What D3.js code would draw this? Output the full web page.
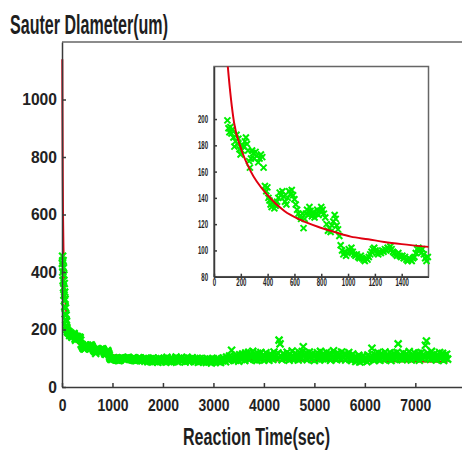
<!DOCTYPE html>
<html>
<head>
<meta charset="utf-8">
<script src="https://cdn.jsdelivr.net/npm/d3@7"></script>
<style>
  body { margin: 0; background: #fff; }
  svg text { font-family: "Liberation Sans", Arial, sans-serif; }
</style>
</head>
<body>
<svg width="462" height="458"></svg>
<script>
// measured points, first 100 s (steep drop)
var earlyT = [8, 12, 16, 20, 24, 28, 32, 36, 40, 44, 48, 52, 56, 60, 65, 70, 75, 80, 85, 90, 95];
var earlyD = [430, 455, 400, 440, 370, 415, 345, 390, 320, 360, 300, 330, 280, 305, 255, 275, 235, 250, 215, 228, 205];

// measured points 100 - 1600 s (shown in the inset too)
var insetT = [100, 108, 115, 122, 130, 138, 145, 152, 160, 168, 175, 182, 190, 198, 206, 214, 222, 230, 238, 246,
  254, 262, 268, 276, 284, 292, 300, 310, 320, 330, 340, 350, 360, 370, 380, 390, 398, 406, 414, 422,
  430, 440, 450, 460, 470, 480, 490, 500, 510, 520, 530, 540, 550, 560, 570, 580, 590, 600, 610, 620,
  630, 640, 650, 660, 668, 676, 685, 694, 703, 712, 720, 730, 740, 750, 760, 770, 780, 790, 800, 810,
  820, 830, 840, 850, 860, 870, 880, 890, 900, 908, 915, 925, 935, 945, 955, 965, 975, 985, 995, 1005,
  1015, 1025, 1035, 1045, 1055, 1065, 1075, 1085, 1095, 1105, 1115, 1125, 1135, 1145, 1155, 1165, 1175, 1185, 1195, 1205,
  1215, 1225, 1235, 1245, 1255, 1265, 1275, 1285, 1295, 1305, 1315, 1325, 1335, 1345, 1355, 1365, 1375, 1385, 1395, 1405,
  1415, 1425, 1435, 1445, 1455, 1465, 1475, 1485, 1495, 1505, 1515, 1525, 1535, 1545, 1555, 1565, 1575, 1585, 1595];
var insetD = [199, 193, 190, 194, 189, 192, 186, 179, 183, 188, 181, 185, 177, 173, 176, 180, 179, 183, 186, 181,
  176, 168, 163, 170, 176, 174, 170, 175, 172, 167, 170, 173, 171, 163, 149, 145, 148, 140, 138, 135,
  133, 136, 132, 134, 137, 140, 144, 142, 145, 141, 137, 135, 140, 145, 143, 146, 142, 139, 135, 131,
  128, 126, 124, 128, 117, 124, 128, 131, 127, 133, 130, 126, 129, 125, 128, 131, 127, 130, 133, 131,
  128, 125, 120, 115, 117, 114, 119, 122, 127, 124, 119, 116, 111, 104, 100, 97, 99, 96, 98, 101,
  99, 102, 99, 97, 96, 97, 95, 94, 96, 94, 93, 92, 94, 93, 95, 97, 99, 101, 102, 100,
  98, 97, 99, 98, 100, 99, 101, 100, 102, 101, 103, 101, 99, 98, 97, 96, 98, 96, 95, 96,
  94, 95, 93, 92, 94, 93, 92, 94, 95, 98, 101, 102, 100, 98, 101, 97, 94, 92, 95];

// measured points after 1600 s, sampled every 20 s from 1620 s
var lateStart = 1620;
var lateStep = 20;
var lateD = [97, 90, 100, 94, 88, 99, 92, 96, 87, 101,
  93, 89, 98, 95, 86, 100, 91, 97, 88, 94,
  99, 92, 87, 103, 95, 90, 98, 86, 101, 94,
  89, 97, 104, 92, 88, 99, 95, 102, 90, 96,
  100, 87, 94, 103, 91, 98, 89, 96, 102, 93,
  88, 97, 92, 100, 86, 95, 99, 90, 94, 87,
  96, 91, 85, 99, 93, 88, 97, 84, 92, 98,
  90, 86, 95, 100, 88, 93, 85, 97, 91, 101,
  94, 88, 104, 97, 92, 108, 99, 128, 102, 95,
  106, 93, 110, 98, 90, 112, 101, 96, 115, 104,
  92, 118, 107, 99, 121, 95, 110, 103, 124, 97,
  113, 100, 92, 117, 106, 95, 120, 102, 111, 94,
  108, 119, 98, 105, 93, 115, 101, 110, 96, 122,
  104, 112, 99, 118, 163, 150, 107, 95, 116, 102,
  110, 98, 121, 105, 93, 114, 100, 125, 108, 96,
  117, 103, 111, 94, 120, 106, 99, 123, 140, 112,
  101, 118, 95, 109, 122, 104, 97, 115, 107, 92,
  113, 100, 119, 106, 94, 124, 110, 98, 116, 103,
  96, 121, 108, 100, 117, 93, 112, 105, 126, 99,
  110, 95, 119, 104, 113, 98, 122, 107, 101, 116,
  94, 111, 103, 120, 97, 108, 92, 115, 100, 106,
  89, 102, 95, 110, 87, 99, 105, 91, 108, 96,
  101, 88, 111, 94, 104, 98, 135, 107, 92, 113,
  97, 109, 120, 100, 93, 116, 104, 111, 95, 122,
  103, 114, 98, 107, 119, 92, 110, 101, 117, 96,
  108, 121, 150, 99, 113, 104, 95, 118, 106, 100,
  115, 97, 109, 123, 102, 94, 112, 105, 119, 98,
  110, 101, 117, 93, 106, 120, 99, 113, 104, 145,
  160, 118, 102, 111, 96, 124, 107, 99, 115, 103,
  94, 112, 105, 120, 98, 108, 117, 92, 110, 101,
  114, 97];

// fitted curve
var fitT = [6, 8, 10, 15, 20, 30, 40, 60, 80, 103, 150, 200, 275, 400, 525, 650, 775, 900, 1020, 1150,
  1270, 1400, 1600, 2000, 3000, 4000, 5000, 6000, 7000, 7640];
var fitD = [1140, 1020, 930, 730, 600, 470, 400, 315, 270, 240, 197, 178, 160, 142, 130, 123, 118, 114, 110.5, 108.5,
  106.5, 104.8, 102.7, 99, 95, 93, 91, 90, 89, 88];

var mainYTicks = [0, 200, 400, 600, 800, 1000];
var mainXTicks = [0, 1000, 2000, 3000, 4000, 5000, 6000, 7000];
var insetYTicks = [80, 100, 120, 140, 160, 180, 200];
var insetXTicks = [0, 200, 400, 600, 800, 1000, 1200, 1400];

var green = '#00f000';
var red = '#e00010';
var axisColor = '#3a3a3a';

var measured = [];
earlyT.forEach(function(t, i) { measured.push({t: t, d: earlyD[i]}); });
insetT.forEach(function(t, i) { measured.push({t: t, d: insetD[i]}); });
lateD.forEach(function(d, i) { measured.push({t: lateStart + i * lateStep, d: d}); });
var fit = fitT.map(function(t, i) { return {t: t, d: fitD[i]}; });
var insetData = insetT.map(function(t, i) { return {t: t, d: insetD[i]}; });

var svg = d3.select('svg');

var xMain = d3.scaleLinear().domain([0, 8000]).range([62, 465.8]);
var yMain = d3.scaleLinear().domain([0, 1200]).range([387, 42]);

var xIn = d3.scaleLinear().domain([0, 1600]).range([214, 428.5]);
var yIn = d3.scaleLinear().domain([80, 240]).range([276.7, 66.5]);

var fmt = d3.format('d');

function cross(s) {
  return 'M' + (-s) + ',' + (-s) + 'L' + s + ',' + s + 'M' + (-s) + ',' + s + 'L' + s + ',' + (-s);
}

// ---- main plot ----
svg.append('line')
  .attr('x1', 62).attr('x2', 462).attr('y1', 42).attr('y2', 42)
  .attr('stroke', '#666').attr('stroke-width', 1.5);

var fitLineMain = d3.line()
  .x(function(d) { return xMain(d.t); })
  .y(function(d) { return yMain(d.d); })
  .curve(d3.curveMonotoneX);

svg.append('path')
  .datum(fit)
  .attr('d', fitLineMain)
  .attr('fill', 'none')
  .attr('stroke', red)
  .attr('stroke-width', 2);

svg.append('g').selectAll('path').data(measured).enter()
  .append('path')
  .attr('d', cross(3.5))
  .attr('transform', function(d) { return 'translate(' + xMain(d.t) + ',' + yMain(d.d) + ')'; })
  .attr('stroke', green)
  .attr('stroke-width', 2.2)
  .attr('fill', 'none');

function styleAxis(g, size, weight, sx, pad, left) {
  g.select('.domain').attr('stroke', axisColor).attr('stroke-width', 1.5);
  g.selectAll('.tick line').attr('stroke', axisColor).attr('stroke-width', 1.5);
  g.selectAll('.tick text')
    .attr('fill', '#222')
    .style('font-size', size + 'px')
    .style('font-weight', weight)
    .attr('transform', 'scale(' + sx + ',1)');
  if (left) g.selectAll('.tick text').attr('x', -pad / sx);
}

var yAxisMain = svg.append('g')
  .attr('transform', 'translate(62,0)')
  .call(d3.axisLeft(yMain).tickValues(mainYTicks).tickFormat(fmt).tickSizeInner(-4).tickSizeOuter(0).tickPadding(5));
styleAxis(yAxisMain, 17, 'bold', 0.92, 5, true);

var xAxisMain = svg.append('g')
  .attr('transform', 'translate(0,387)')
  .call(d3.axisBottom(xMain).tickValues(mainXTicks).tickFormat(fmt).tickSizeInner(-4).tickSizeOuter(0).tickPadding(13));
styleAxis(xAxisMain, 16, 'bold', 0.87, 13, false);

svg.append('text')
  .attr('x', 10).attr('y', 33.5)
  .attr('textLength', 158).attr('lengthAdjust', 'spacingAndGlyphs')
  .style('font-size', '27px').style('font-weight', 'bold')
  .attr('fill', '#1e1e1e')
  .text('Sauter Dlameter(um)');

svg.append('text')
  .attr('x', 183).attr('y', 445)
  .attr('textLength', 147).attr('lengthAdjust', 'spacingAndGlyphs')
  .style('font-size', '23px').style('font-weight', 'bold')
  .attr('fill', '#1e1e1e')
  .text('Reaction Time(sec)');

// ---- inset ----
var inset = svg.append('g');

inset.append('rect')
  .attr('x', xIn.range()[0]).attr('y', yIn.range()[1])
  .attr('width', xIn.range()[1] - xIn.range()[0])
  .attr('height', yIn.range()[0] - yIn.range()[1])
  .attr('fill', '#fff')
  .attr('stroke', '#666').attr('stroke-width', 1.5);

svg.append('clipPath').attr('id', 'insetClip')
  .append('rect')
  .attr('x', xIn.range()[0]).attr('y', yIn.range()[1])
  .attr('width', xIn.range()[1] - xIn.range()[0] + 4)
  .attr('height', yIn.range()[0] - yIn.range()[1]);

var insetPlot = inset.append('g').attr('clip-path', 'url(#insetClip)');

insetPlot.selectAll('path.pt').data(insetData).enter()
  .append('path')
  .attr('class', 'pt')
  .attr('d', cross(3))
  .attr('transform', function(d) { return 'translate(' + xIn(d.t) + ',' + yIn(d.d) + ')'; })
  .attr('stroke', green)
  .attr('stroke-width', 2)
  .attr('fill', 'none');

var fitLineIn = d3.line()
  .x(function(d) { return xIn(d.t); })
  .y(function(d) { return yIn(d.d); })
  .curve(d3.curveMonotoneX);

insetPlot.append('path')
  .datum(fit.filter(function(d) { return d.t <= 1600; }))
  .attr('d', fitLineIn)
  .attr('fill', 'none')
  .attr('stroke', red)
  .attr('stroke-width', 2);

var yAxisIn = inset.append('g')
  .attr('transform', 'translate(' + xIn.range()[0] + ',0)')
  .call(d3.axisLeft(yIn).tickValues(insetYTicks).tickFormat(fmt).tickSizeInner(-3).tickSizeOuter(0).tickPadding(7));
styleAxis(yAxisIn, 11, 'bold', 0.55, 6, true);

var xAxisIn = inset.append('g')
  .attr('transform', 'translate(0,' + yIn.range()[0] + ')')
  .call(d3.axisBottom(xIn).tickValues(insetXTicks).tickFormat(fmt).tickSizeInner(-3).tickSizeOuter(0).tickPadding(1.5));
styleAxis(xAxisIn, 11, 'bold', 0.55, 1.5, false);
</script>
</body>
</html>
